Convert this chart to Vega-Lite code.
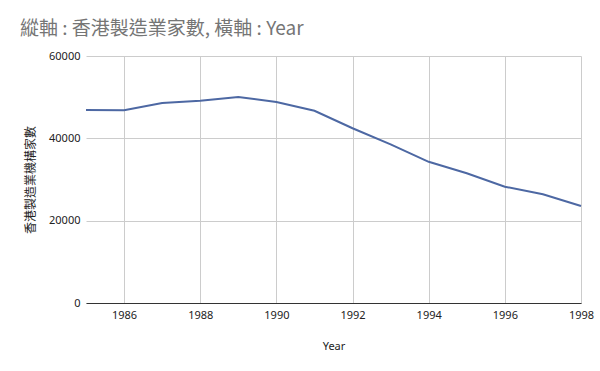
{
  "$schema": "https://vega.github.io/schema/vega-lite/v6.json",
  "width": 495,
  "height": 247,
  "autosize": {"type": "none"},
  "padding": {"left": 86, "top": 56, "right": 19, "bottom": 68},
  "background": "#ffffff",
  "title": {
    "text": "縱軸 : 香港製造業家數,  橫軸 : Year",
    "anchor": "start",
    "frame": "group",
    "dx": -66,
    "offset": 11,
    "fontSize": 19,
    "font": "Noto Sans CJK TC",
    "fontWeight": "normal",
    "color": "#757575"
  },
  "data": {
    "values": [
      {"Year": 1985, "count": 46900},
      {"Year": 1986, "count": 46800},
      {"Year": 1987, "count": 48600},
      {"Year": 1988, "count": 49150},
      {"Year": 1989, "count": 50050},
      {"Year": 1990, "count": 48850},
      {"Year": 1991, "count": 46700},
      {"Year": 1992, "count": 42450},
      {"Year": 1993, "count": 38550},
      {"Year": 1994, "count": 34300},
      {"Year": 1995, "count": 31500},
      {"Year": 1996, "count": 28250},
      {"Year": 1997, "count": 26400},
      {"Year": 1998, "count": 23550}
    ]
  },
  "mark": {"type": "line", "color": "#4d68a3", "strokeWidth": 2},
  "encoding": {
    "x": {
      "field": "Year",
      "type": "quantitative",
      "scale": {"domain": [1985, 1998], "nice": false, "zero": false},
      "axis": {
        "values": [1986, 1988, 1990, 1992, 1994, 1996, 1998],
        "format": "d",
        "title": "Year",
        "titleFont": "Noto Sans",
        "titleFontSize": 11,
        "titleFontWeight": "normal",
        "titleColor": "#222222",
        "titlePadding": 20,
        "labelFont": "Noto Sans",
        "labelFontSize": 11,
        "labelColor": "#222222",
        "labelPadding": 6,
        "ticks": false,
        "domainColor": "#333333",
        "domainWidth": 1,
        "gridColor": "#cccccc",
        "labelFlush": false
      }
    },
    "y": {
      "field": "count",
      "type": "quantitative",
      "scale": {"domain": [0, 60000], "nice": false},
      "axis": {
        "values": [0, 20000, 40000, 60000],
        "format": "d",
        "title": "香港製造業機構家數",
        "titleFont": "Noto Sans CJK TC",
        "titleFontSize": 12,
        "titleFontWeight": "normal",
        "titleColor": "#222222",
        "titlePadding": 11,
        "labelFont": "Noto Sans",
        "labelFontSize": 11,
        "labelColor": "#222222",
        "labelPadding": 6,
        "ticks": false,
        "domain": false,
        "gridColor": "#cccccc"
      }
    }
  },
  "config": {"view": {"stroke": null}}
}
